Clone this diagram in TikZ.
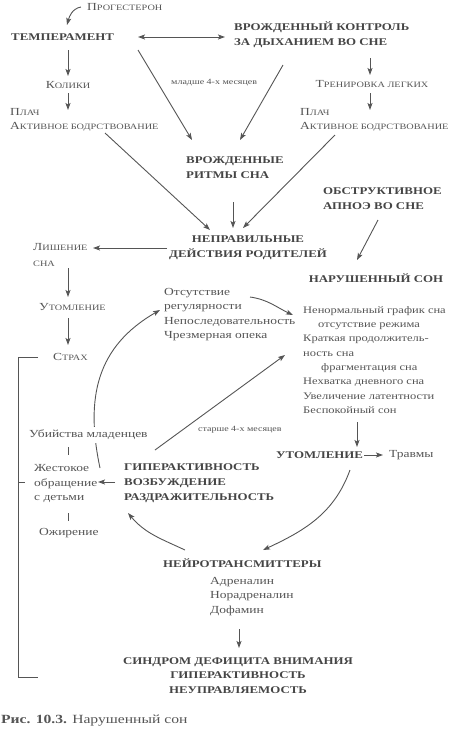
\documentclass[tikz,border=0pt]{standalone}
\usepackage{fontspec}
\setmainfont[FakeStretch=1.25]{Liberation Serif}
\usetikzlibrary{arrows.meta}
\definecolor{txt}{HTML}{555555}
\definecolor{btxt}{HTML}{454545}
\definecolor{lncol}{HTML}{555555}
\newcommand{\SC}[1]{{\fontsize{8.2}{10}\selectfont #1}}
\begin{document}
\begin{tikzpicture}[x=1pt,y=-1pt,
  every node/.style={inner sep=1pt, text=txt},
  rg/.style={font=\fontsize{10.8}{14.3}\selectfont, align=left},
  rgs/.style={font=\fontsize{10}{14.3}\selectfont, align=left},
  bd/.style={font=\fontsize{10.3}{14.8}\selectfont\bfseries, text=btxt, align=left},
  sc/.style={font=\fontsize{10.8}{14.5}\selectfont, align=left},
  tinylab/.style={font=\fontsize{8}{9}\selectfont},
  arr/.style={draw=lncol, line width=0.9pt, -{Stealth[length=7pt,width=5pt,inset=1.5pt]}},
  arrboth/.style={draw=lncol, line width=0.9pt, {Stealth[length=7pt,width=5pt,inset=1.5pt]}-{Stealth[length=7pt,width=5pt,inset=1.5pt]}},
  cline/.style={draw=lncol, line width=0.9pt},
]
\useasboundingbox (0,0) rectangle (450,729);
% nodes
\node[sc, anchor=west] (prog) at (86,7) {П\SC{РОГЕСТЕРОН}};
\node[bd, anchor=west] (temp) at (10,37) {ТЕМПЕРАМЕНТ};
\node[bd, anchor=west] (vrk) at (233,34.5) {ВРОЖДЕННЫЙ КОНТРОЛЬ\\ЗА ДЫХАНИЕМ ВО СНЕ};
\node[sc] (kol) at (68,85) {К\SC{ОЛИКИ}};
\node[sc, anchor=west] (pl1) at (9,120) {П\SC{ЛАЧ}\\А\SC{КТИВНОЕ БОДРСТВОВАНИЕ}};
\node[sc] (tren) at (372,84) {Т\SC{РЕНИРОВКА ЛЕГКИХ}};
\node[sc, anchor=west] (pl2) at (299,120) {П\SC{ЛАЧ}\\А\SC{КТИВНОЕ БОДРСТВОВАНИЕ}};
\node[tinylab, anchor=west] (lab1) at (170,83) {младше 4-х месяцев};
\node[bd, anchor=west] (vrs) at (185,167.5) {ВРОЖДЕННЫЕ\\РИТМЫ СНА};
\node[bd, align=center] (nepr) at (248,247.5) {НЕПРАВИЛЬНЫЕ\\ДЕЙСТВИЯ РОДИТЕЛЕЙ};
\node[bd, anchor=west] (obs) at (322,198.5) {ОБСТРУКТИВНОЕ\\АПНОЭ ВО СНЕ};
\node[bd] (nar) at (376,278) {НАРУШЕННЫЙ СОН};
\node[rgs, anchor=west] (list) at (302,360) {Ненормальный график сна\\\hspace*{15pt}отсутствие режима\\Краткая продолжитель-\\ность сна\\\hspace*{18pt}фрагментация сна\\Нехватка дневного сна\\Увеличение латентности\\Беспокойный сон};
\node[sc, anchor=west] (lish) at (32,255) {Л\SC{ИШЕНИЕ}\\[1.5pt]\SC{СНА}};
\node[sc, anchor=west] (ut1) at (38,307) {У\SC{ТОМЛЕНИЕ}};
\node[sc, anchor=west] (strah) at (52,357) {С\SC{ТРАХ}};
\node[rg, anchor=west] (ots) at (163,314.5) {Отсутствие\\регулярности\\Непоследовательность\\Чрезмерная опека};
\node[rg, anchor=west] (zh) at (33,483.5) {Жестокое\\обращение\\с детьми};
\node[bd, anchor=west] (gip) at (123,483) {ГИПЕРАКТИВНОСТЬ\\ВОЗБУЖДЕНИЕ\\РАЗДРАЖИТЕЛЬНОСТЬ};
\node[rg, anchor=west] (ozh) at (38,533) {Ожирение};
\node[bd, anchor=west] (ut2) at (275,455) {УТОМЛЕНИЕ};
\node[rg, anchor=west] (trav) at (388,455) {Травмы};
\node[tinylab, anchor=west] (lab2) at (197,430) {старше 4-х месяцев};
\node[bd, anchor=west] (neuro) at (162,563) {НЕЙРОТРАНСМИТТЕРЫ};
\node[rg, anchor=west] (adr) at (209,596.5) {Адреналин\\Норадреналин\\Дофамин};
\node[bd, align=center] (sdv) at (238,675.5) {СИНДРОМ ДЕФИЦИТА ВНИМАНИЯ\\ГИПЕРАКТИВНОСТЬ\\НЕУПРАВЛЯЕМОСТЬ};
\node[anchor=west, font=\fontsize{12.5}{14}\selectfont] (cap) at (0,721) {\textbf{Рис. 10.3.} Нарушенный сон};
% arrows
\draw[arr] ([shift={(-5,0)}]prog.west) to[out=190,in=75] ([shift={(57,-12)}]temp.west);
\draw[arrboth] ([shift={(128,0)}]temp.west) -- ([shift={(-8,2.5)}]vrk.west);
\draw[arr] ([shift={(58,13)}]temp.west) -- ([shift={(0,-9)}]kol.center);
\draw[arr] ([shift={(0,8)}]kol.center) -- ([shift={(59,-10)}]pl1.west);
\draw[arr] ([shift={(128,13)}]temp.west) -- ([shift={(7,-27.5)}]vrs.west);
\draw[arr] ([shift={(50,30.5)}]vrk.west) -- ([shift={(55,-27.5)}]vrs.west);
\draw[arr] ([shift={(137,23.5)}]vrk.west) -- ([shift={(-2,-9)}]tren.center);
\draw[arr] ([shift={(-2,9)}]tren.center) -- ([shift={(71,-10)}]pl2.west);
\draw[arr] ([shift={(36,15)}]pl2.west) -- ([shift={(-5,-19.5)}]nepr.center);
\draw[arr] ([shift={(96,13)}]pl1.west) -- ([shift={(-38,-17.5)}]nepr.center);
\draw[arr] ([shift={(48,34.5)}]vrs.west) -- ([shift={(-15,-19.5)}]nepr.center);
\draw[arr] ([shift={(-81,0.5)}]nepr.center) -- ([shift={(61,-7)}]lish.west);
\draw[arr] ([shift={(56,21.5)}]obs.west) -- ([shift={(-19,-18)}]nar.center);
\draw[arr] ([shift={(36,13)}]lish.west) -- ([shift={(30,-10)}]ut1.west);
\draw[arr] ([shift={(30,11)}]ut1.west) -- ([shift={(16,-12)}]strah.west);
\draw[arr] ([shift={(55,62)}]list.west) -- ([shift={(82,-8)}]ut2.west);
\draw[arr] ([shift={(89,0)}]ut2.west) -- ([shift={(-5,0)}]trav.west);
\draw[arr] ([shift={(-8,-1)}]gip.west) -- ([shift={(65,-1.5)}]zh.west);
\draw[arr] ([shift={(30,32.5)}]adr.west) -- ([shift={(1,-27.5)}]sdv.center);
\draw[arr] ([shift={(32,-33)}]gip.west) -- ([shift={(-17,-5)}]list.west);
\draw[arr] ([shift={(87,-17.5)}]ots.west) to[out=-8,in=155] ([shift={(-9,-45)}]list.west);
\draw[arr] ([shift={(67,-15.5)}]zh.west) to[out=102,in=210,looseness=1.1] ([shift={(-3,-4.5)}]ots.west);
\draw[arr] ([shift={(75,15)}]ut2.west) to[out=250,in=25] ([shift={(101,-13)}]neuro.west);
\draw[arr] ([shift={(23,-13)}]neuro.west) to[out=155,in=-50] ([shift={(5,30)}]gip.west);
% lines
\draw[cline] ([shift={(-14,0)}]strah.west) -| ([shift={(-220,1.5)}]sdv.center) -- ++(20,0);
\draw[cline] ([shift={(-15,-1.5)}]zh.west) -- ([shift={(-8,-1.5)}]zh.west);
\draw[cline] ([shift={(35,29.5)}]zh.west) -- ([shift={(35,37.5)}]zh.west);
% label over the arc
\node[rg, anchor=west, fill=white, inner ysep=3pt] (ub) at (28,435) {Убийства младенцев};
\draw[cline] ([shift={(40,12)}]ub.west) -- ([shift={(40,20)}]ub.west);
\end{tikzpicture}
\end{document}
